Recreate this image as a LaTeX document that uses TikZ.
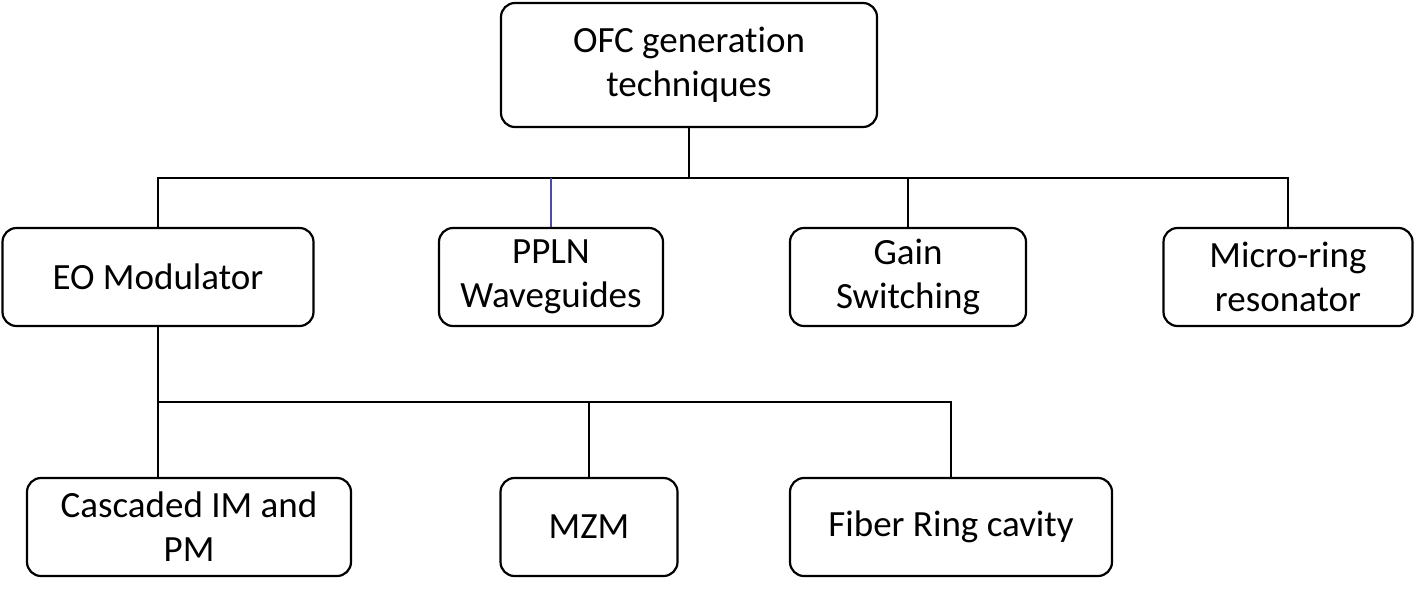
\documentclass[tikz,border=0pt]{standalone}
\usepackage{fontspec}
\setmainfont[Ligatures=NoCommon]{Carlito}
\usetikzlibrary{positioning}
\tikzset{
  techbox/.style={shape=rectangle,draw=black,rounded corners=14pt,line width=2.2pt,align=center,inner sep=0pt,font=\fontsize{37}{44}\selectfont},
  link/.style={draw=black,line width=1.3pt}
}
\begin{document}
\begin{tikzpicture}[x=1pt,y=-1pt]
\useasboundingbox (0,0) rectangle (1416,595);
\node[techbox,minimum width=376pt,minimum height=124pt] (ofc) at (689,65) {OFC generation\\techniques};
\node[techbox,minimum width=311pt,minimum height=98pt] (eo) at (158,277) {EO Modulator};
\node[techbox,minimum width=224pt,minimum height=98pt] (ppln) at (551,277) {PPLN\\Waveguides};
\node[techbox,minimum width=236pt,minimum height=98pt] (gain) at (908,277) {Gain\\Switching};
\node[techbox,minimum width=249pt,minimum height=98pt] (ring) at (1288,277) {Micro-ring\\resonator};
\node[techbox,minimum width=324pt,minimum height=98pt] (cim) at (189,527) {Cascaded IM and\\PM};
\node[techbox,minimum width=177pt,minimum height=98pt] (mzm) at (589,527) {MZM};
\node[techbox,minimum width=322pt,minimum height=98pt] (fiber) at (951,527) {Fiber Ring cavity};

\coordinate (bus1) at (689,178);
\coordinate (bus2) at (158,402);

\path[link] (ofc.south) -- (bus1);
\path[link] (eo.north) |- (ring.north |- bus1) -- (ring.north);
\path[link] (gain.north) -- (gain.north |- bus1);
\path[draw=blue!50!black!70,line width=1.3pt] (ppln.north) -- (ppln.north |- bus1);
\path[link] (eo.south) -- (bus2) -| (fiber.north);
\path[link] (bus2) -- (cim.north -| bus2);
\path[link] (mzm.north) -- (mzm.north |- bus2);
\end{tikzpicture}
\end{document}
